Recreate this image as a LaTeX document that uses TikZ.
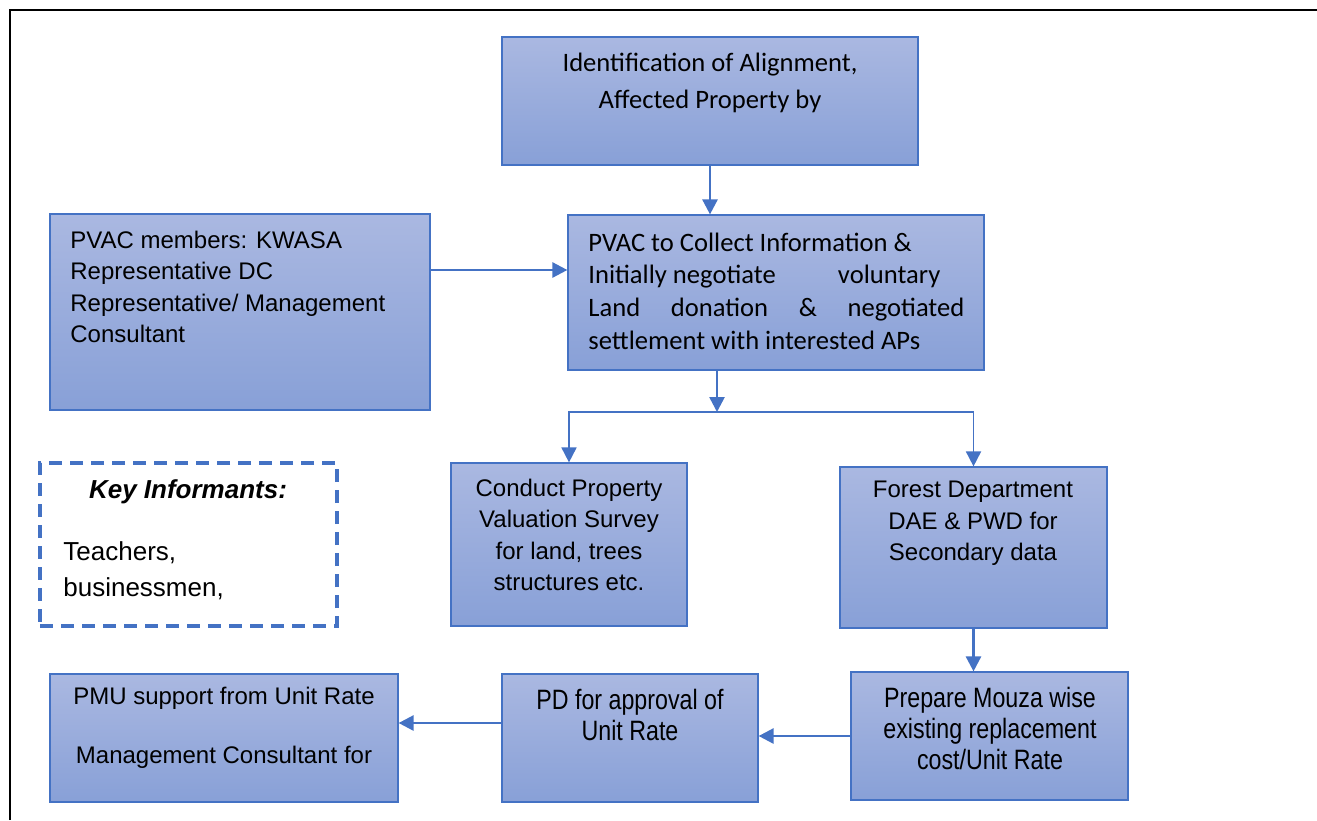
\documentclass[tikz,border=0pt]{standalone}
\usepackage{fontspec}
\setmainfont{Liberation Sans}
\newfontfamily\calibri{Carlito}
\newfontfamily\narrowsans[FakeStretch=0.83]{Liberation Sans}
\usetikzlibrary{arrows.meta}
\definecolor{edgeblue}{RGB}{68,114,196}
\definecolor{boxtop}{RGB}{170,184,225}
\definecolor{boxbot}{RGB}{136,160,215}
\tikzset{
  box/.style={draw=edgeblue, line width=0.6pt, top color=boxtop, bottom color=boxbot, inner sep=0pt},
  flow/.style={draw=edgeblue, line width=1.3pt, -{Triangle[length=7.5pt,width=7.5pt]}},
  txt/.style={inner sep=0pt, align=center, font=\fontsize{12}{15.7}\selectfont},
  cal/.style={inner sep=0pt, font=\calibri\fontsize{13.3}{18.5}\selectfont},
  nar/.style={inner sep=0pt, align=center, font=\narrowsans\fontsize{14}{15.5}\selectfont},
}
\begin{document}
\begin{tikzpicture}[x=0.5pt,y=-0.5pt]
    \useasboundingbox (0,0) rectangle (1317,820);
    \draw[line width=1.2pt] (10,820) -- (10,10) -- (1317,10);
    % boxes
    \node[box, minimum width=208pt, minimum height=64pt] (ident) at (710,101) {};
    \node[box, minimum width=190pt, minimum height=98pt] (pvac) at (240,312) {};
    \node[box, minimum width=208pt, minimum height=77.5pt] (collect) at (776,292.5) {};
    \node[box, minimum width=118pt, minimum height=81.5pt] (survey) at (569,544.5) {};
    \node[box, minimum width=133.5pt, minimum height=80.5pt] (forest) at (973.5,547.5) {};
    \node[box, minimum width=138.5pt, minimum height=64pt] (mouza) at (989.5,736) {};
    \node[box, minimum width=128pt, minimum height=64pt] (pd) at (630,738) {};
    \node[box, minimum width=174pt, minimum height=64pt] (pmu) at (224,738) {};
    \node[draw=edgeblue, line width=2.2pt, dash pattern=on 6.5pt off 4pt, minimum width=148.5pt, minimum height=81.5pt] (key) at (188.5,544.5) {};
    % texts
    \node[cal, align=center] (identtxt) at (710,82.5) {Identification of Alignment,\\Affected Property by};
    \node[txt, align=left, anchor=west] (pvactxt) at (70,287) {PVAC members: KWASA\\Representative DC\\Representative/ Management\\Consultant};
    \node[cal, align=left, anchor=west, font=\calibri\fontsize{13.3}{16.3}\selectfont] (collecttxt) at (588,291) {PVAC to Collect Information \&\\
      \hbox to 176pt{Initially negotiate\hfill voluntary}\\
      \hbox to 188pt{Land\hfill donation\hfill \&\hfill negotiated}\\
      settlement with interested APs};
    \node[txt] (surveytxt) at (569,535) {Conduct Property\\Valuation Survey\\for land, trees\\structures etc.};
    \node[txt] (foresttxt) at (973,523.5) {Forest Department\\DAE \& PWD for\\Secondary data};
    \node[nar] (mouzatxt) at (990,728) {Prepare Mouza wise\\existing replacement\\cost/Unit Rate};
    \node[nar] (pdtxt) at (630,714.5) {PD for approval of\\Unit Rate};
    \node[txt] (pmutxt) at (224,727.5) {PMU support from Unit Rate\\[14pt]Management Consultant for};
    \node[inner sep=0pt, font=\fontsize{13}{18}\selectfont\bfseries\itshape] (keyhead) at (188,492) {Key Informants:};
    \node[inner sep=0pt, align=left, anchor=west, font=\fontsize{13}{18}\selectfont] (keytxt) at (63,571) {Teachers,\\businessmen,};
    % connectors
    \coordinate (split) at (717,412);
    \draw[flow] (ident.south) -- (ident.south |- collect.north);
    \draw[flow] ([yshift=21pt]pvac.east) -- ([yshift=21pt]pvac.east -| collect.west);
    \draw[flow] (split |- collect.south) -- (split);
    \draw[flow, line width=0.9pt] (split) -| (survey.north);
    \draw[flow, line width=0.9pt] (split) -| (forest.north);
    \draw[flow] (forest.south) -- (forest.south |- mouza.north);
    \draw[flow] (mouza.west) -- (mouza.west -| pd.east);
    \draw[flow] ([yshift=7.5pt]pd.west) -- ([yshift=7.5pt]pd.west -| pmu.east);
\end{tikzpicture}
\end{document}
